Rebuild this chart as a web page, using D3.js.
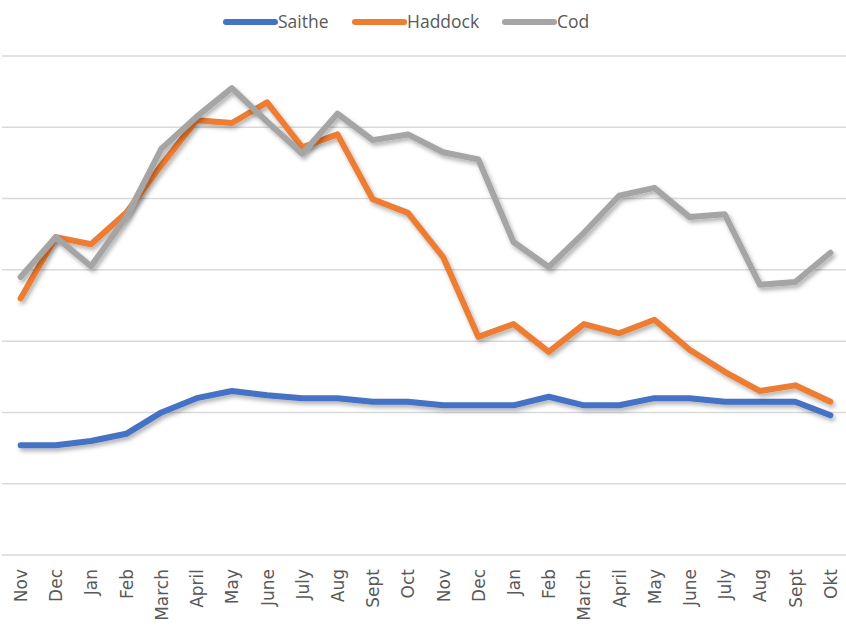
<!DOCTYPE html>
<html>
<head>
<meta charset="utf-8">
<script src="https://cdn.jsdelivr.net/npm/d3@7"></script>
<style>
  body { margin: 0; background: #fff; }
  #chart { width: 846px; height: 626px; }
</style>
</head>
<body>
<div id="chart"></div>
<script>
var months = ["Nov", "Dec", "Jan", "Feb", "March", "April", "May", "June", "July", "Aug", "Sept", "Oct",
              "Nov", "Dec", "Jan", "Feb", "March", "April", "May", "June", "July", "Aug", "Sept", "Okt"];

var saithe  = [1.54, 1.54, 1.60, 1.70, 2.00, 2.20, 2.30, 2.24, 2.20, 2.20, 2.15, 2.15,
               2.10, 2.10, 2.10, 2.22, 2.10, 2.10, 2.20, 2.20, 2.15, 2.15, 2.15, 1.96];
var haddock = [3.60, 4.46, 4.36, 4.80, 5.47, 6.10, 6.06, 6.35, 5.72, 5.90, 4.99, 4.80,
               4.18, 3.06, 3.24, 2.85, 3.24, 3.11, 3.30, 2.88, 2.57, 2.30, 2.38, 2.15];
var cod     = [3.90, 4.46, 4.05, 4.74, 5.70, 6.15, 6.55, 6.08, 5.63, 6.19, 5.82, 5.90,
               5.65, 5.55, 4.39, 4.04, 4.52, 5.04, 5.15, 4.74, 4.78, 3.79, 3.83, 4.24];

var seriesNames = ["Saithe", "Haddock", "Cod"];
var seriesColors = ["#4472C4", "#ED7D31", "#A5A5A5"];
var gridValues = [0, 1, 2, 3, 4, 5, 6, 7];

var width = 846, height = 626;

var svg = d3.select("#chart").append("svg")
    .attr("width", width)
    .attr("height", height);

// soft shadow like the excel line style
var defs = svg.append("defs");
defs.append("filter")
    .attr("id", "shadow")
    .attr("x", "-10%").attr("y", "-10%")
    .attr("width", "120%").attr("height", "130%")
  .append("feDropShadow")
    .attr("dx", 2).attr("dy", 3)
    .attr("stdDeviation", 2)
    .attr("flood-color", "#000")
    .attr("flood-opacity", 0.3);

var x = d3.scalePoint()
    .domain(d3.range(months.length))
    .range([3, 848])
    .padding(0.5);

var y = d3.scaleLinear()
    .domain([0, 7])
    .range([555, 56]);

// gridlines
svg.append("g")
    .selectAll("line")
    .data(gridValues)
    .enter().append("line")
    .attr("x1", 2)
    .attr("x2", width)
    .attr("y1", function(d) { return y(d); })
    .attr("y2", function(d) { return y(d); })
    .attr("stroke", "#D9D9D9")
    .attr("stroke-width", 1.5);

// x labels, rotated
var xAxis = d3.axisBottom(x)
    .tickSize(0)
    .tickFormat(function(i) { return months[i]; });

var gx = svg.append("g")
    .attr("transform", "translate(0,555)")
    .call(xAxis);
gx.select(".domain").remove();
gx.selectAll("text")
    .attr("transform", "rotate(-90)")
    .attr("x", -14)
    .attr("y", 0)
    .attr("dy", "0.35em")
    .style("text-anchor", "end")
    .style("font-family", "'DejaVu Sans', Verdana, sans-serif")
    .style("font-size", "17px")
    .style("fill", "#595959");

var line = d3.line()
    .x(function(d, i) { return x(i); })
    .y(function(d) { return y(d); });

var allSeries = [saithe, haddock, cod];

svg.append("g")
    .selectAll("path")
    .data(allSeries)
    .enter().append("path")
    .attr("d", line)
    .attr("fill", "none")
    .attr("stroke", function(d, i) { return seriesColors[i]; })
    .attr("stroke-width", 6)
    .attr("stroke-linejoin", "round")
    .attr("stroke-linecap", "round")
    .attr("filter", "url(#shadow)");

// legend
var legendX = [224, 353, 503];
var legend = svg.append("g")
    .selectAll("g")
    .data(seriesNames)
    .enter().append("g")
    .attr("transform", function(d, i) { return "translate(" + legendX[i] + ",22)"; });

legend.append("line")
    .attr("x1", 2).attr("x2", 51)
    .attr("y1", 0).attr("y2", 0)
    .attr("stroke", function(d, i) { return seriesColors[i]; })
    .attr("stroke-width", 6)
    .attr("stroke-linecap", "round");

legend.append("text")
    .attr("x", 54)
    .attr("y", 0)
    .attr("dy", "0.35em")
    .style("font-family", "'Open Sans', sans-serif")
    .style("font-size", "17.5px")
    .style("fill", "#595959")
    .text(function(d) { return d; });
</script>
</body>
</html>
